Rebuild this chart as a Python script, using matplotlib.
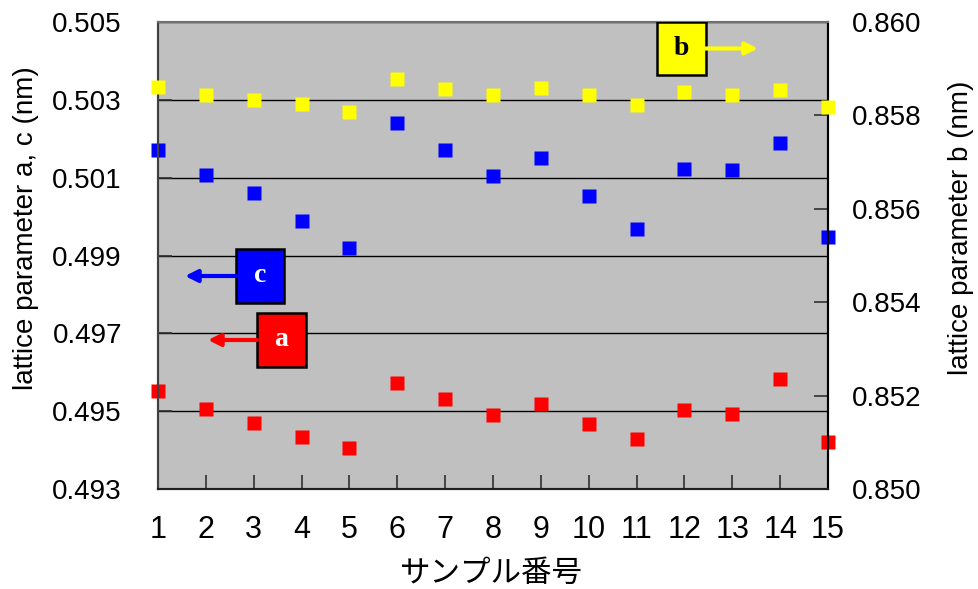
import matplotlib
matplotlib.use("Agg")
import matplotlib.pyplot as plt
from matplotlib.patches import Rectangle

# sample numbers and lattice parameters (nm)
samples = list(range(1, 16))
param_a = [0.49552, 0.49506, 0.49470, 0.49434, 0.49405, 0.49572, 0.49531, 0.49490,
           0.49519, 0.49467, 0.49429, 0.49503, 0.49493, 0.49583, 0.49421]
param_c = [0.50171, 0.50107, 0.50061, 0.49989, 0.49919, 0.50240, 0.50171, 0.50104,
           0.50151, 0.50053, 0.49968, 0.50122, 0.50120, 0.50189, 0.49948]
param_b = [0.85861, 0.85844, 0.85833, 0.85824, 0.85807, 0.85878, 0.85857, 0.85844,
           0.85859, 0.85844, 0.85822, 0.85850, 0.85844, 0.85854, 0.85818]

left_ticks = [0.493, 0.495, 0.497, 0.499, 0.501, 0.503, 0.505]
right_ticks = [0.850, 0.852, 0.854, 0.856, 0.858, 0.860]

plt.rcParams["font.family"] = ["Liberation Sans", "DejaVu Sans"]

FW, FH = 979, 589
fig = plt.figure(figsize=(FW / 100, FH / 100), dpi=100)
ax = fig.add_axes([158 / FW, 100 / FH, 670 / FW, 467 / FH])
ax.set_facecolor("#c0c0c0")
ax2 = ax.twinx()

ax.set_xlim(1, 15)
ax.set_ylim(0.493, 0.505)
ax2.set_ylim(0.850, 0.860)

ax.set_axisbelow(True)
ax.yaxis.grid(True, color="black", lw=1.0)

ms = 10.5
ax.plot(samples, param_a, "s", color="#ff0000", ms=ms, mec="none", clip_on=False, zorder=3)
ax.plot(samples, param_c, "s", color="#0000ff", ms=ms, mec="none", clip_on=False, zorder=3)
ax2.plot(samples, param_b, "s", color="#ffff00", ms=ms, mec="none", clip_on=False, zorder=3)

ax.set_xticks(samples)
ax.set_xticklabels([str(s) for s in samples],
                   family=["Liberation Sans Narrow", "Liberation Sans"], fontsize=22)
ax.set_yticks(left_ticks)
ax.set_yticklabels([f"{v:.3f}" for v in left_ticks], fontsize=20)
ax2.set_yticks(right_ticks)
ax2.set_yticklabels([f"{v:.3f}" for v in right_ticks], fontsize=20)

ax.tick_params(axis="x", direction="in", length=10, width=1.2, pad=19, color="#303030")
ax.tick_params(axis="y", direction="in", length=10, width=1.2, pad=26, color="#303030")
ax2.tick_params(axis="y", direction="in", length=10, width=1.2, pad=17, color="#303030")

for a in (ax, ax2):
    a.spines["left"].set_color("#404040")
    a.spines["bottom"].set_color("#202020")
    a.spines["top"].set_color("#707070")
    a.spines["right"].set_color("black")
    for s in a.spines.values():
        s.set_linewidth(1.5)

# axis titles placed by figure pixels
fig.text(491 / FW, 1 - 573 / FH, "サンプル番号", family=["Noto Sans CJK JP", "DejaVu Sans"],
         fontsize=22, ha="center", va="center")
fig.text(26 / FW, 1 - 228 / FH, "lattice parameter a, c (nm)", fontsize=20,
         rotation=90, ha="center", va="center")
fig.text(961 / FW, 1 - 228 / FH, "lattice parameter b (nm)", fontsize=20,
         rotation=90, ha="center", va="center")


def label_box(cx, cy, w, h, face, txt, txtcolor, tip):
    # box and arrow positions in axes pixels converted to fractions
    W, H = 670.0, 467.0
    rect = Rectangle(((cx - w / 2) / W, (cy - h / 2) / H), w / W, h / H,
                     transform=ax2.transAxes, facecolor=face, edgecolor="black",
                     lw=1.8, zorder=5)
    ax2.add_patch(rect)
    ax2.text(cx / W, cy / H, txt, transform=ax2.transAxes, ha="center", va="center",
             color=txtcolor, fontsize=20, fontweight="bold",
             family=["Liberation Serif", "DejaVu Serif"], zorder=6)
    side = 1 if tip > cx else -1
    ax2.annotate("", xy=(tip / W, cy / H), xytext=((cx + side * w / 2) / W, cy / H),
                 xycoords="axes fraction", textcoords="axes fraction",
                 arrowprops=dict(arrowstyle="-|>", color=face, lw=3,
                                 mutation_scale=18, shrinkA=0, shrinkB=0),
                 zorder=5)


label_box(523.5, 440.5, 49, 53, "#ffff00", "b", "black", 600)
label_box(102, 213, 48, 54, "#0000ff", "c", "white", 27)
label_box(123.5, 149, 49, 54, "#ff0000", "a", "white", 50)

fig.savefig("out.png", dpi=100)
